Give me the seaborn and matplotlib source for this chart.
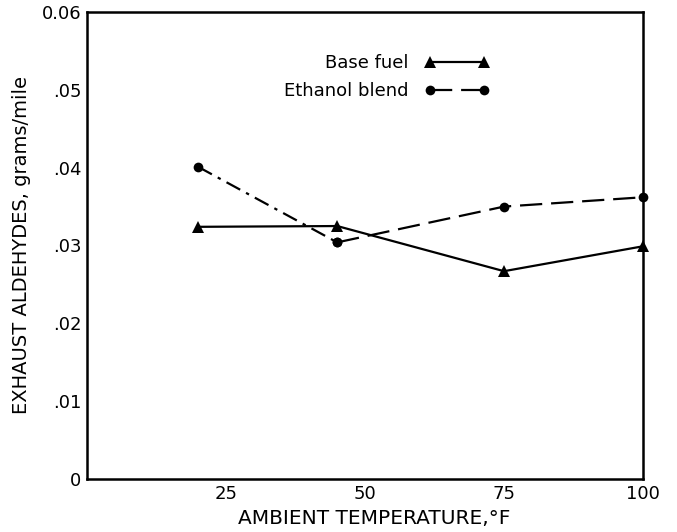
import matplotlib
matplotlib.use("Agg")
import matplotlib.pyplot as plt
import seaborn as sns
import pandas as pd

# Data
temps = [20, 45, 75, 100]
base_fuel = [0.0324, 0.0325, 0.0267, 0.0299]
ethanol_blend = [0.0401, 0.0304, 0.0350, 0.0362]

x_ticks = [25, 50, 75, 100]
x_tick_labels = ["25", "50", "75", "100"]
y_ticks = [0, 0.01, 0.02, 0.03, 0.04, 0.05, 0.06]
y_tick_labels = ["0", ".01", ".02", ".03", ".04", ".05", "0.06"]

x_label = "AMBIENT TEMPERATURE,\u00b0F"
y_label = "EXHAUST ALDEHYDES, grams/mile"
series_names = ["Base fuel", "Ethanol blend"]

sns.set_style("white")
plt.rcParams["font.family"] = ["DejaVu Sans"]
plt.rcParams["text.color"] = "black"
plt.rcParams["axes.labelcolor"] = "black"

fig = plt.figure(figsize=(6.77, 5.32), dpi=100)
ax = fig.add_axes([87 / 677, 1 - 479 / 532, 556 / 677, 467 / 532])

df_base = pd.DataFrame({"T": temps, "A": base_fuel})
df_eth = pd.DataFrame({"T": temps, "A": ethanol_blend})

sns.lineplot(data=df_base, x="T", y="A", ax=ax, color="black", lw=1.6,
             marker="^", markersize=8, markeredgewidth=0, clip_on=False,
             label=series_names[0])
# first ethanol segment dash-dot, remainder dashed
sns.lineplot(data=df_eth.iloc[:2], x="T", y="A", ax=ax, color="black", lw=1.6,
             linestyle=(0, (7, 3, 1.5, 3)), marker="o", markersize=7,
             markeredgewidth=0, clip_on=False, legend=False)
sns.lineplot(data=df_eth.iloc[1:], x="T", y="A", ax=ax, color="black", lw=1.6,
             linestyle=(0, (10, 4)), marker="o", markersize=7,
             markeredgewidth=0, clip_on=False, label=series_names[1])

ax.set_xlim(0, 100)
ax.set_ylim(0, 0.06)
ax.set_xticks(x_ticks)
ax.set_xticklabels(x_tick_labels)
ax.set_yticks(y_ticks)
ax.set_yticklabels(y_tick_labels)
ax.tick_params(axis="both", direction="in", length=12.5, width=1.6,
               labelsize=13, colors="black", pad=4)

for s in ax.spines.values():
    s.set_visible(True)
    s.set_color("black")
    s.set_linewidth(1.8)

ax.set_xlabel(x_label, fontsize=14.5, color="black")
ax.set_ylabel(y_label, fontsize=14, color="black")
ax.xaxis.set_label_coords((374 - 87) / 556, (479 - 518) / 467)
ax.yaxis.set_label_coords((22 - 87) / 556, 0.5)
ax.xaxis.label.set_verticalalignment("center")
ax.yaxis.label.set_verticalalignment("center")

leg = ax.legend(loc="upper left", bbox_to_anchor=((284 - 87) / 556, (479 - 54) / 467),
                frameon=False, fontsize=13, markerfirst=False, numpoints=2,
                handlelength=3.6, handletextpad=0.9, labelspacing=0.55,
                borderpad=0, borderaxespad=0)
for t in leg.get_texts():
    t.set_color("black")

fig.savefig("out.png", dpi=100, facecolor="white")
